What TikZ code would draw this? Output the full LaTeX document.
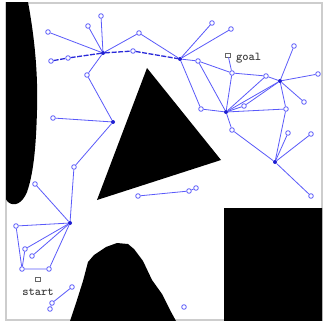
\documentclass[tikz,border=0pt]{standalone}
\usepackage{tikz}
\usetikzlibrary{positioning}
\definecolor{treeblue}{RGB}{90,90,250}
\definecolor{hubblue}{RGB}{30,30,210}
\definecolor{framegray}{RGB}{205,205,205}

\begin{document}
\begin{tikzpicture}[
    x=1pt, y=-1pt,
    vtx/.style={circle, draw=treeblue, line width=0.8pt, inner sep=0pt, minimum size=4.6pt},
    hub/.style={circle, fill=hubblue, inner sep=0pt, minimum size=4pt},
    link/.style={treeblue, line width=0.8pt},
    solpath/.style={hubblue!80!treeblue, line width=1.3pt, dash pattern=on 5pt off 1.5pt},
    endpt/.style={rectangle, draw=black!60, line width=0.6pt, inner sep=0pt,
                  minimum width=5pt, minimum height=4pt},
    lbl/.style={font=\fontsize{12}{12}\selectfont\ttfamily\bfseries, text=black!75, inner sep=0pt},
    obst/.style={fill=black}
  ]
    \useasboundingbox[fill=white] (0,0) rectangle (323,323);

    % workspace frame
    \draw[framegray, line width=1.5pt] (6,3) rectangle (322,320);

    % obstacles
    \begin{scope}
      \clip (6,3) rectangle (322,320);
      \fill[obst] (5,2) -- (28,2) .. controls (35,40) and (38,75) .. (37,110)
        .. controls (36,150) and (33,175) .. (27,192)
        .. controls (22,204) and (14,207) .. (8,202) -- (5,198) -- cycle;
      \fill[obst] (147,68) -- (221,160) -- (97,200) -- cycle;
      \fill[obst] (224,208) rectangle (323,321);
      \fill[obst] (70,321) -- (77,300) -- (83,281) -- (88,262) -- (94,255)
        -- (106,247) -- (117,243) -- (128,244) -- (134,249) -- (143,261)
        -- (152,280) -- (162,294) -- (170,310) -- (176,321) -- cycle;
    \end{scope}

    % tree vertices
    \node[hub] (A) at (103,53) {};
    \node[hub] (B) at (180,59) {};
    \node[hub] (C) at (113,122) {};
    \node[hub] (D) at (70,223) {};
    \node[hub] (E) at (226,112) {};
    \node[hub] (F) at (280,81) {};
    \node[hub] (G) at (275,162) {};

    \node[vtx] (a1) at (101,16) {};
    \node[vtx] (a2) at (88,26) {};
    \node[vtx] (a3) at (48,32) {};
    \node[vtx] (a4) at (139,33) {};
    \node[vtx] (a5) at (51,61) {};
    \node[vtx] (a6) at (68,58) {};
    \node[vtx] (a7) at (133,51) {};
    \node[vtx] (a8) at (87,75) {};

    \node[vtx] (b1) at (212,23) {};
    \node[vtx] (b2) at (231,29) {};
    \node[vtx] (b3) at (198,61) {};
    \node[vtx] (b4) at (232,73) {};
    \node[vtx] (b5) at (266,76) {};
    \node[vtx] (b6) at (201,109) {};

    \node[vtx] (c1) at (53,118) {};
    \node[vtx] (c2) at (74,167) {};

    \node[vtx] (d1) at (35,184) {};
    \node[vtx] (d2) at (16,226) {};
    \node[vtx] (d3) at (25,249) {};
    \node[vtx] (d4) at (32,256) {};
    \node[vtx] (d5) at (22,269) {};
    \node[vtx] (d6) at (49,269) {};

    \node[vtx] (e1) at (244,106) {};
    \node[vtx] (e2) at (286,109) {};
    \node[vtx] (e3) at (232,130) {};

    \node[vtx] (f1) at (294,46) {};
    \node[vtx] (f2) at (318,74) {};
    \node[vtx] (f3) at (304,102) {};

    \node[vtx] (g1) at (288,133) {};
    \node[vtx] (g2) at (311,134) {};
    \node[vtx] (g3) at (311,196) {};

    \node[vtx] (m1) at (138,196) {};
    \node[vtx] (m2) at (189,191) {};
    \node[vtx] (m3) at (196,188) {};
    \node[vtx] (m4) at (72,287) {};
    \node[vtx] (m5) at (52,303) {};
    \node[vtx] (m6) at (50,309) {};
    \node[vtx] (m7) at (184,307) {};

    % start and goal
    \node[endpt] (goal) at (228,55) {};
    \node[lbl, right=5pt of goal.north east, anchor=north west] (goaltxt) {goal};
    \node[endpt] (start) at (38,279) {};
    \node[lbl, below=7pt of start] (starttxt) {start};

    % edges
    \draw[link] (A) -- (a1);
    \draw[link] (A) -- (a2);
    \draw[link] (A) -- (a3);
    \draw[link] (A) -- (a4) -- (B);
    \draw[link] (A) -- (a8) -- (C);
    \draw[solpath] (a5) -- (a6) -- (A) -- (a7) -- (B);

    \draw[link] (c1) -- (C);
    \draw[link] (C) -- (c2) -- (D);
    \draw[link] (D) -- (d1);
    \draw[link] (D) -- (d2) -- (d5) -- (d6) -- (D);
    \draw[link] (D) -- (d3) -- (d5);
    \draw[link] (D) -- (d4);

    \draw[link] (B) -- (b1);
    \draw[link] (B) -- (b2);
    \draw[link] (B) -- (b3) -- (b4) -- (b5) -- (F);
    \draw[link] (b3) -- (E);
    \draw[link] (B) -- (b6) -- (E);
    \draw[link] (goal) -- (b4) -- (E);

    \draw[link] (E) -- (e1) -- (F);
    \draw[link] (E) -- (b5);
    \draw[link] (E) -- (F);
    \draw[link] (E) -- (e2);
    \draw[link] (E) -- (e3) -- (G);

    \draw[link] (F) -- (f1);
    \draw[link] (F) -- (f2);
    \draw[link] (F) -- (f3);
    \draw[link] (F) -- (e2) -- (G);
    \draw[link] (G) -- (g1);
    \draw[link] (G) -- (g2);
    \draw[link] (G) -- (g3);

    \draw[link] (m1) -- (m2) -- (m3);
    \draw[link] (m4) -- (m5) -- (m6);
\end{tikzpicture}
\end{document}
